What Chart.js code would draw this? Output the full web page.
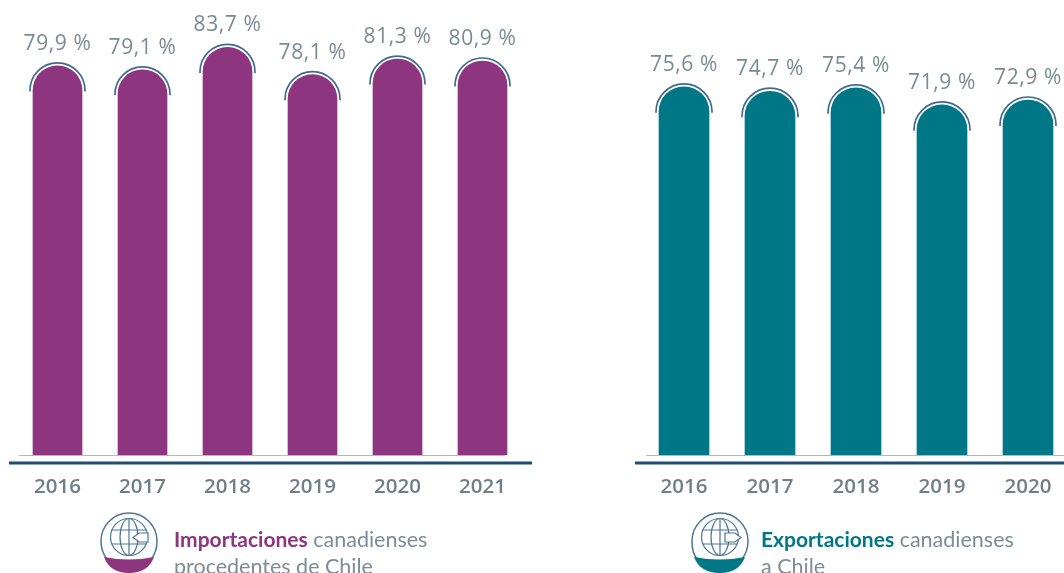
<!DOCTYPE html>
<html lang="es"><head><meta charset="utf-8">
<script src="https://cdn.jsdelivr.net/npm/chart.js@4"></script>
<style>
html,body{margin:0;padding:0;background:#fff;width:1064px;height:573px;overflow:hidden}
canvas{position:absolute;top:0}
#c1{left:0}#c2{left:620px}
.leg{position:absolute;top:525px;font-family:Lato,sans-serif;font-size:21.5px;line-height:27px;color:#7d8c95;white-space:nowrap}
.leg b{font-weight:700;font-size:21px}
svg{position:absolute;top:510px}
</style></head><body>
<canvas id="c1" width="540" height="573" style="width:540px;height:573px"></canvas>
<canvas id="c2" width="460" height="573" style="width:460px;height:573px"></canvas>
<svg style="left:98px" width="64" height="63" viewBox="0 0 64 63">
 <g fill="none" stroke="#4d7595" stroke-width="1.2">
  <path d="M3 31 A28 28 0 0 1 59 31" stroke-width="1.5"/>
  <path d="M3 31 C3 38 5 44 9 49 M59 31 C59 38 57.500 44 53 49" stroke-width="1.5"/>
  <circle cx="31" cy="27" r="18.500"/><ellipse cx="31" cy="27" rx="9" ry="18.500"/>
  <path d="M31 8.500V45.500M13.500 20H48.500M13.500 34H48.500"/>
 </g>
 <path d="M6 47 Q31 52 56 47 Q50 63 31 63 Q12 63 6 47Z" fill="#8e3580"/>
 <path d="M50 23 H41 L35 27.500 L41 32 H50Z" fill="#fff" stroke="#4d7595" stroke-width="1.2"/>
</svg>
<svg style="left:688px" width="64" height="63" viewBox="0 0 64 63">
 <g fill="none" stroke="#4d7595" stroke-width="1.2">
  <path d="M4 31 A28 28 0 0 1 60 31" stroke-width="1.5"/>
  <path d="M4 31 C4 38 5 44 9 49 M60 31 C60 38 58 44 54 49" stroke-width="1.5"/>
  <circle cx="32" cy="27" r="18.500"/><ellipse cx="32" cy="27" rx="9" ry="18.500"/>
  <path d="M32 8.500V45.500M14.500 20H49.500M14.500 34H49.500"/>
 </g>
 <path d="M6 47 Q32 52 57 47 Q51 63 32 63 Q12 63 6 47Z" fill="#007786"/>
 <path d="M37 23 H47 L53 27.500 L47 32 H37Z" fill="#fff" stroke="#4d7595" stroke-width="1.2"/>
</svg>
<div class="leg" style="left:174px"><b style="color:#8e3580">Importaciones</b> canadienses<br>procedentes de Chile</div>
<div class="leg" style="left:761px"><b style="color:#007786">Exportaciones</b> canadienses<br>a Chile</div>
<script>
const importYears = ['2016','2017','2018','2019','2020','2021'];
const importValues = [79.9,79.1,83.7,78.1,81.3,80.9];
const exportYears = ['2016','2017','2018','2019','2020'];
const exportValues = [75.6,74.7,75.4,71.9,72.9];

const decor = {
  id:'decor',
  afterDatasetsDraw(chart,args,o){
    const ctx=chart.ctx, y0=chart.scales.y.getPixelForValue(0);
    ctx.save();
    ctx.strokeStyle='#a9bccf';ctx.lineWidth=1.2;
    ctx.beginPath();ctx.moveTo(o.lightFrom,y0+0.5);ctx.lineTo(o.lightTo,y0+0.5);ctx.stroke();
    ctx.strokeStyle='#1f4e72';ctx.lineWidth=3;
    ctx.beginPath();ctx.moveTo(o.darkFrom,y0+8);ctx.lineTo(o.darkTo,y0+8);ctx.stroke();
    const vals=chart.data.datasets[0].data;
    chart.getDatasetMeta(0).data.forEach((b,i)=>{
      const r=b.width/2, cy=b.y+r;
      ctx.strokeStyle='#3f6c8e';ctx.lineWidth=1.7;
      ctx.beginPath();ctx.moveTo(b.x-r-3,cy+1);ctx.arc(b.x,cy,r+3,Math.PI,0);
      ctx.lineTo(b.x+r+3,cy+1);ctx.stroke();
      ctx.fillStyle='#7a8a94';
      ctx.font='21px "Open Sans"';ctx.letterSpacing='0.6px';ctx.textAlign='center';ctx.textBaseline='middle';
      ctx.fillText(vals[i].toFixed(1).replace('.',',')+' %',b.x,b.y-22);
    });
    ctx.restore();
  }
};
function make(id,labels,values,color,pad,thick,dec){
  new Chart(document.getElementById(id),{
    type:'bar',
    data:{labels,datasets:[{data:values,backgroundColor:color,barThickness:thick,
      borderRadius:{topLeft:thick/2,topRight:thick/2,bottomLeft:0,bottomRight:0},borderSkipped:'bottom'}]},
    options:{
      responsive:false,animation:false,
      layout:{padding:{left:pad[0],right:pad[1],top:0,bottom:0}},
      plugins:{legend:{display:false},tooltip:{enabled:false},decor:dec},
      scales:{
        y:{display:false,min:0,max:93.43},
        x:{grid:{display:false},border:{display:false},
           afterFit(s){s.height=118;},
           ticks:{color:'#6f7f88',font:{family:'Open Sans',size:20.5,weight:'600'},padding:12,maxRotation:0,autoSkip:false}}
      }
    },
    plugins:[decor]
  });
}
make('c1',importYears,importValues,'#8e3580',[15,15],49,{lightFrom:19,lightTo:505,darkFrom:9,darkTo:532});
make('c2',exportYears,exportValues,'#007786',[21,9],50,{lightFrom:26,lightTo:460,darkFrom:15,darkTo:460});
</script>
</body></html>
